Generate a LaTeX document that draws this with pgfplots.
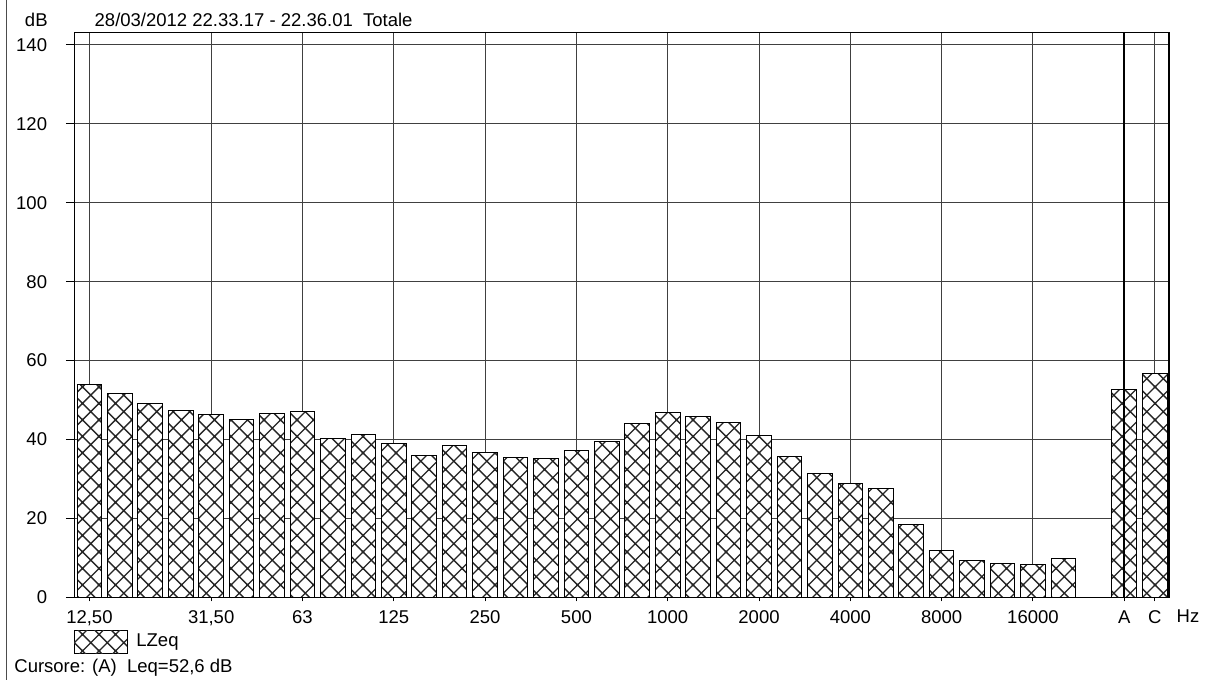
\documentclass[border=0pt]{standalone}
\usepackage{pgfplots}
\pgfplotsset{compat=1.18}
\usepackage{fontspec}
\setmainfont{Liberation Sans}
\usetikzlibrary{patterns}

% diagonal crosshatch, diamonds about 16 px wide
\pgfdeclarepatternformonly{xhatch}{\pgfqpoint{-1pt}{-1pt}}{\pgfqpoint{9.25pt}{9.25pt}}{\pgfqpoint{8.25pt}{8.25pt}}{%
  \pgfsetlinewidth{0.7pt}%
  \pgfpathmoveto{\pgfqpoint{-0.5pt}{-0.5pt}}\pgfpathlineto{\pgfqpoint{8.75pt}{8.75pt}}%
  \pgfpathmoveto{\pgfqpoint{-0.5pt}{8.75pt}}\pgfpathlineto{\pgfqpoint{8.75pt}{-0.5pt}}%
  \pgfusepath{stroke}}

% octave bands 12.5 Hz ... 20 kHz at 0..32, A at 34, C at 35
\pgfplotstableread{
i   lzeq
0   54.0
1   51.7
2   49.0
3   47.3
4   46.3
5   45.1
6   46.6
7   47.1
8   40.2
9   41.3
10  39.0
11  35.9
12  38.5
13  36.7
14  35.4
15  35.3
16  37.3
17  39.4
18  44.0
19  46.8
20  45.9
21  44.3
22  40.9
23  35.8
24  31.4
25  28.8
26  27.5
27  18.4
28  11.8
29  9.3
30  8.6
31  8.4
32  9.8
34  52.6
35  56.6
}\spectrum

\begin{document}
\fontsize{9.25pt}{11pt}\selectfont
\begin{tikzpicture}[every node/.style={inner sep=0pt}]
\useasboundingbox (0,0) rectangle (603.5pt,342pt);
\draw[black!70, line width=0.7pt] (3.25pt,2pt) -- (3.25pt,342pt);
\begin{axis}[
  at={(37.25pt,43.35pt)}, anchor=south west,
  scale only axis, width=547.25pt, height=282.5pt,
  xmin=-0.49, xmax=35.47, ymin=0, ymax=143.2,
  xtick={0,4,7,10,13,16,19,22,25,28,31,34,35},
  xticklabels={{12,50},{31,50},63,125,250,500,1000,2000,4000,8000,16000,A,C},
  ytick={0,20,...,140},
  /pgf/number format/assume math mode=true,
  tick pos=left, tick align=outside,
  xtick style={black, line width=0.5pt, /pgfplots/major tick length=2pt},
  ytick style={black, line width=0.5pt, /pgfplots/major tick length=4.25pt},
  yticklabel style={anchor=east, xshift=-9.25pt},
  xticklabel style={anchor=base, yshift=-9pt},
  grid=major,
  major grid style={black!75, line width=0.5pt},
  axis line style={black, line width=0.6pt},
]
\addplot[ybar, bar width=0.81, draw=black, line width=0.5pt, fill=white,
  postaction={pattern=xhatch, pattern color=black!85}]
  table[x=i, y=lzeq] {\spectrum};
% cursor on A
\addplot[black, line width=0.8pt, no marks] coordinates {(34,0) (34,143.2)};
\end{axis}
\node[anchor=base east] at (24pt,328.65pt) {dB};
\node[anchor=base west] at (47.15pt,328.65pt) {28/03/2012 22.33.17 - 22.36.01\ \ Totale};
\node[anchor=base] at (594pt,30.5pt) {Hz};
\draw[black, line width=0.5pt, fill=white, postaction={pattern=xhatch, pattern color=black!85}]
  (37pt,15.35pt) rectangle (63.5pt,26.65pt);
\node[anchor=base west] at (68pt,18.65pt) {LZeq};
\node[anchor=base west] at (7pt,5.5pt) {Cursore: (A)\ \ Leq=52,6 dB};
\end{tikzpicture}
\end{document}
